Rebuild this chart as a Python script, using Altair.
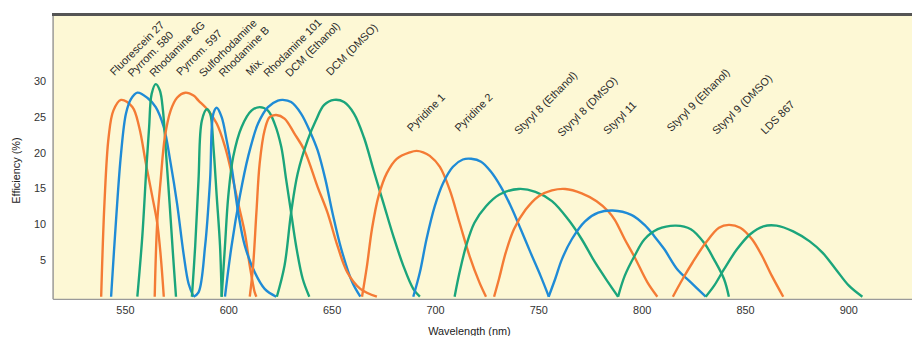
import altair as alt
import pandas as pd

# ---------------- data ----------------
FLUOR27_NM  = [538.5, 540.1, 542.1, 544.4, 548.1, 553.6, 556.9, 560.1, 563.2, 565.6, 567.3, 568.8]
FLUOR27_EFF = [0, 13.1, 22.2, 25.9, 27.4, 26.4, 23.6, 18.6, 14.0, 10.3, 5.7, 0]

PYR580_NM  = [543.3, 545.7, 548.1, 550.5, 552.9, 556.0, 560.8, 564.9, 568.8, 572.1, 575.2, 578.4, 580.8, 583.2]
PYR580_EFF = [0, 10.7, 19.9, 25.5, 27.5, 28.4, 27.7, 26.4, 23.6, 18.6, 13.0, 5.9, 1.8, 0]

RH6G_NM  = [556.0, 558.4, 560.3, 561.7, 562.9, 564.9, 566.9, 568.4, 569.9, 571.6, 573.2, 574.7]
RH6G_EFF = [0, 8.4, 17.6, 23.6, 28.2, 29.6, 28.7, 25.9, 19.9, 13.0, 6.1, 0]

PYR597_NM  = [564.4, 565.6, 567.3, 569.3, 572.1, 575.2, 579.2, 583.2, 585.6, 590.4, 594.4, 598.4, 601.6, 604.8, 608.0, 610.4, 612.8, 613.6]
PYR597_EFF = [0, 10.3, 16.3, 22.2, 25.9, 27.7, 28.4, 28.0, 27.3, 25.9, 24.1, 20.9, 17.2, 13.0, 8.9, 4.3, 0.6, 0]

SULFO_NM  = [582.4, 584.0, 585.6, 587.2, 589.6, 591.2, 592.8, 594.4, 596.0, 596.8]
SULFO_EFF = [0, 7.1, 16.3, 24.5, 26.1, 25.5, 20.9, 14.0, 7.1, 0]

RHB_NM  = [583.2, 585.6, 588.8, 591.2, 592.8, 594.4, 596.8, 599.2, 601.6, 604.8, 608.0, 612.8, 617.6, 623.2]
RHB_EFF = [0, 0.6, 7.1, 16.3, 25.5, 26.3, 25.0, 21.8, 18.1, 11.7, 7.1, 3.4, 1.1, 0]

MIX_NM  = [596.8, 598.4, 600.0, 602.4, 606.4, 611.2, 615.2, 619.2, 622.4, 625.6, 628.0, 630.4, 632.8, 636.0, 639.2]
MIX_EFF = [0, 7.1, 14.0, 19.5, 23.6, 25.9, 26.4, 25.9, 24.1, 20.9, 16.3, 11.7, 7.1, 2.5, 0]

RH101_NM  = [598.4, 601.6, 605.6, 609.6, 614.4, 619.2, 624.0, 626.4, 630.4, 635.2, 640.0, 643.2, 647.0, 650.4, 654.7, 660.0, 663.9]
RH101_EFF = [0, 7.1, 14.0, 19.5, 24.1, 26.4, 27.3, 27.4, 27.1, 25.5, 22.7, 20.4, 16.3, 11.7, 6.6, 2.0, 0]

DCM_ETH_NM  = [610.4, 612.0, 613.6, 615.2, 617.6, 620.0, 623.2, 627.2, 632.0, 636.8, 643.2, 648.0, 652.8, 657.6, 663.9, 671.9]
DCM_ETH_EFF = [0, 4.3, 11.7, 18.6, 23.2, 25.0, 25.3, 24.8, 22.7, 20.4, 15.3, 11.7, 7.1, 3.4, 1.1, 0]

DCM_DMSO_NM  = [623.5, 627.2, 630.4, 633.6, 638.4, 642.3, 646.4, 651.2, 656.0, 660.8, 665.6, 670.3, 675.1, 679.9, 684.7, 689.5, 692.7]
DCM_DMSO_EFF = [0, 4.3, 11.7, 17.2, 21.8, 24.5, 26.7, 27.4, 27.1, 25.5, 22.2, 17.6, 13.0, 8.4, 4.3, 1.1, 0]

PYRID1_NM  = [664.7, 667.1, 669.5, 672.7, 676.7, 681.5, 687.9, 691.1, 694.3, 697.5, 702.3, 707.1, 711.9, 716.7, 721.5, 724.7]
PYRID1_EFF = [0, 4.3, 9.4, 14.0, 17.2, 19.2, 20.1, 20.3, 20.1, 19.6, 18.1, 14.9, 10.3, 5.7, 2.0, 0]

PYRID2_NM  = [689.5, 692.7, 695.9, 699.9, 703.9, 708.7, 713.5, 717.5, 722.3, 727.1, 731.9, 736.7, 741.5, 746.3, 751.1, 755.1]
PYRID2_EFF = [0, 3.4, 8.0, 12.6, 15.8, 18.1, 19.1, 19.2, 18.8, 17.4, 15.3, 12.6, 9.4, 6.1, 2.9, 0]

STY8_ETH_NM  = [709.5, 711.9, 715.1, 719.1, 724.7, 731.0, 740.6, 748.6, 756.6, 764.6, 771.0, 777.4, 783.8, 788.6]
STY8_ETH_EFF = [0, 3.4, 7.1, 10.3, 12.6, 14.2, 15.0, 14.6, 13.3, 10.7, 8.0, 4.8, 2.0, 0]

STY8_DMSO_NM  = [728.6, 731.0, 734.2, 738.2, 743.8, 750.2, 756.6, 763.0, 771.0, 778.2, 783.8, 787.0, 791.8, 796.6, 802.8, 807.6]
STY8_DMSO_EFF = [0, 2.5, 6.1, 9.4, 12.1, 14.0, 14.8, 15.0, 14.4, 13.3, 11.9, 10.7, 8.0, 5.5, 2.0, 0]

STY11_NM  = [755.0, 758.2, 761.4, 766.2, 772.6, 779.0, 786.0, 795.0, 801.4, 806.2, 811.0, 817.3, 823.8, 831.0]
STY11_EFF = [0, 2.5, 5.2, 8.0, 10.5, 11.7, 12.0, 11.4, 10.0, 8.4, 6.6, 3.8, 2.0, 0]

STY9_ETH_NM  = [788.6, 791.8, 796.6, 801.4, 807.8, 816.6, 823.8, 830.2, 835.0, 839.8, 842.2]
STY9_ETH_EFF = [0, 2.9, 5.7, 8.0, 9.4, 9.9, 9.4, 7.5, 5.2, 2.5, 0]

STY9_DMSO_NM  = [815.1, 819.9, 824.7, 831.0, 837.4, 842.2, 847.7, 853.4, 858.2, 863.0, 868.5]
STY9_DMSO_EFF = [0, 2.5, 4.8, 7.5, 9.6, 10.0, 9.6, 8.0, 5.7, 2.9, 0]

LDS867_NM  = [831.0, 835.0, 839.8, 846.1, 852.5, 858.9, 865.3, 873.3, 881.3, 887.6, 894.0, 900.4, 906.8]
LDS867_EFF = [0, 1.5, 3.8, 6.6, 8.7, 9.8, 9.9, 9.1, 7.7, 6.1, 3.8, 1.5, 0]

CURVES = [
    ("Fluorescein 27", "orange", FLUOR27_NM, FLUOR27_EFF),
    ("Pyrrom. 580", "blue", PYR580_NM, PYR580_EFF),
    ("Rhodamine 6G", "green", RH6G_NM, RH6G_EFF),
    ("Pyrrom. 597", "orange", PYR597_NM, PYR597_EFF),
    ("Sulforhodamine", "green", SULFO_NM, SULFO_EFF),
    ("Rhodamine B", "blue", RHB_NM, RHB_EFF),
    ("Mix.", "green", MIX_NM, MIX_EFF),
    ("Rhodamine 101", "blue", RH101_NM, RH101_EFF),
    ("DCM (Ethanol)", "orange", DCM_ETH_NM, DCM_ETH_EFF),
    ("DCM (DMSO)", "green", DCM_DMSO_NM, DCM_DMSO_EFF),
    ("Pyridine 1", "orange", PYRID1_NM, PYRID1_EFF),
    ("Pyridine 2", "blue", PYRID2_NM, PYRID2_EFF),
    ("Styryl 8 (Ethanol)", "green", STY8_ETH_NM, STY8_ETH_EFF),
    ("Styryl 8 (DMSO)", "orange", STY8_DMSO_NM, STY8_DMSO_EFF),
    ("Styryl 11", "blue", STY11_NM, STY11_EFF),
    ("Styryl 9 (Ethanol)", "green", STY9_ETH_NM, STY9_ETH_EFF),
    ("Styryl 9 (DMSO)", "orange", STY9_DMSO_NM, STY9_DMSO_EFF),
    ("LDS 867", "green", LDS867_NM, LDS867_EFF),
]

LABEL_NAMES = ["Fluorescein 27", "Pyrrom. 580", "Rhodamine 6G", "Pyrrom. 597", "Sulforhodamine",
               "Rhodamine B", "Mix.", "Rhodamine 101", "DCM (Ethanol)", "DCM (DMSO)",
               "Pyridine 1", "Pyridine 2", "Styryl 8 (Ethanol)", "Styryl 8 (DMSO)", "Styryl 11",
               "Styryl 9 (Ethanol)", "Styryl 9 (DMSO)", "LDS 867"]
LABEL_NM = [544.9, 553.5, 564.0, 577.0, 588.0, 597.6, 610.6, 619.2, 629.7, 649.4,
            688.7, 711.7, 740.5, 761.5, 783.6, 814.3, 836.3, 859.8]
LABEL_EFF = [30.7, 30.5, 30.5, 30.7, 30.5, 30.5, 30.7, 30.5, 30.5, 30.7,
             22.9, 22.9, 22.5, 22.2, 22.5, 22.9, 22.5, 22.5]

X_TICKS = [550, 600, 650, 700, 750, 800, 850, 900]
Y_TICKS = [5, 10, 15, 20, 25, 30]

COLOR_DOMAIN = ["orange", "blue", "green"]
COLOR_RANGE = ["#F47B35", "#1F8BD6", "#1BA57B"]

rows = []
for name, col, xs, ys in CURVES:
    for x, y in zip(xs, ys):
        rows.append({"dye": name, "family": col, "nm": x, "eff": y})
curves_df = pd.DataFrame(rows)
labels_df = pd.DataFrame({"label": LABEL_NAMES, "nm": LABEL_NM, "eff": LABEL_EFF})

W, H = 867, 287

x_scale = alt.Scale(domain=[515, 930.8], nice=False, zero=False)
y_scale = alt.Scale(domain=[-0.3, 39.3], nice=False, zero=False)

x_axis = alt.Axis(values=X_TICKS, ticks=False, grid=False, labelPadding=6,
                  labelFontSize=11, labelColor="#333", labelFont="Liberation Sans",
                  domainColor="#9a9a9a", domainWidth=1.5,
                  title="Wavelength (nm)", titleFontSize=11, titleFontWeight="normal",
                  titleFont="Liberation Sans", titleColor="#222",
                  titleX=420, titleY=36, titleBaseline="alphabetic", titleAlign="center")
y_axis = alt.Axis(values=Y_TICKS, ticks=False, grid=False, labelPadding=7,
                  labelFontSize=11, labelColor="#333", labelFont="Liberation Sans",
                  domainColor="#9a9a9a", domainWidth=1.5,
                  title="Efficiency (%)", titleFontSize=11, titleFontWeight="normal",
                  titleFont="Liberation Sans", titleColor="#222",
                  titleAngle=270, titleX=-36, titleY=157, titleAlign="center",
                  titleBaseline="middle")

lines = alt.Chart(curves_df).mark_line(interpolate="catmull-rom", strokeWidth=2.4).encode(
    x=alt.X("nm:Q", scale=x_scale, axis=x_axis),
    y=alt.Y("eff:Q", scale=y_scale, axis=y_axis),
    color=alt.Color("family:N", scale=alt.Scale(domain=COLOR_DOMAIN, range=COLOR_RANGE), legend=None),
    detail="dye:N",
)

texts = alt.Chart(labels_df).mark_text(angle=315, align="left", baseline="alphabetic",
                                       fontSize=11, font="Liberation Sans", color="#2a2a2a").encode(
    x=alt.X("nm:Q", scale=x_scale),
    y=alt.Y("eff:Q", scale=y_scale),
    text="label:N",
)

top_rule = alt.Chart(labels_df).mark_rule(color="#555555", strokeWidth=2).encode(
    x=alt.value(0), x2=alt.value(W), y=alt.value(0)
)

chart = alt.layer(lines, texts, top_rule).properties(
    width=W, height=H,
    autosize=alt.AutoSizeParams(type="none"),
    padding={"left": 45, "top": 5, "right": 0, "bottom": 36},
).configure_view(stroke=None, fill="#FDF8D5")

chart.save("out.html", embed_options={"renderer": "svg", "actions": False})
